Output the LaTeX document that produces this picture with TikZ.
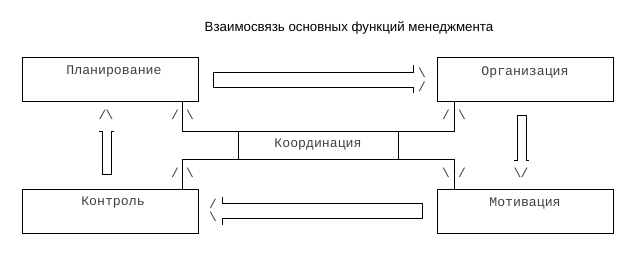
\documentclass[tikz,border=0pt]{standalone}
\usepackage{fontspec}
\setmainfont{Liberation Sans}
\setmonofont{Liberation Mono}
\definecolor{txtgray}{HTML}{404040}
\begin{document}
\begin{tikzpicture}[x=1pt,y=-1pt,
  box/.style={draw=black,line width=0.8pt,minimum width=176pt,minimum height=44pt,inner sep=0pt,anchor=north west},
  lbl/.style={font=\ttfamily\fontsize{13.2}{15}\selectfont,text=txtgray,inner sep=0pt},
  sl/.style={font=\ttfamily\fontsize{13}{15}\selectfont,text=txtgray,inner sep=0pt},
  ln/.style={draw=black,line width=0.8pt}]
\useasboundingbox (0,0) rectangle (624,260);
\node[font=\fontsize{13.3}{15}\selectfont,inner sep=0pt] (title) at (349,28) {Взаимосвязь основных функций менеджмента};
% boxes
\node[box] (plan) at (22,57) {};
\node[box] (org) at (437,57) {};
\node[box] (ctrl) at (22,189) {};
\node[box] (mot) at (437,189) {};
\node[lbl] (planT) at (114,72) {Планирование};
\node[lbl] (orgT) at (525,72) {Организация};
\node[lbl] (ctrlT) at (113,203) {Контроль};
\node[lbl] (motT) at (525,203) {Мотивация};
% coordination
\node[draw=black,line width=0.8pt,minimum width=160pt,minimum height=28pt,inner sep=0pt,anchor=north west] (coord) at (238,131) {};
\node[lbl] (coordT) at (318,145) {Координация};
\coordinate (c1) at (182,101);
\coordinate (c2) at (182,131);
\coordinate (c3) at (454,131);
\coordinate (c4) at (454,101);
\coordinate (c5) at (182,189);
\coordinate (c6) at (182,159);
\coordinate (c7) at (454,159);
\coordinate (c8) at (454,189);
\draw[ln] (c1) -- (c2) -- (c3) -- (c4);
\draw[ln] (c5) -- (c6) -- (c7) -- (c8);
% slashes near coordination
\node[sl] (s1) at (175,115) {/};
\node[sl] (s2) at (190,115) {\textbackslash};
\node[sl] (s3) at (446,115) {/};
\node[sl] (s4) at (462,115) {\textbackslash};
\node[sl] (s5) at (175,173) {/};
\node[sl] (s6) at (190,173) {\textbackslash};
\node[sl] (s7) at (446,173) {\textbackslash};
\node[sl] (s8) at (462,173) {/};
% right arrow plan -> org
\coordinate (r1) at (413,65);
\coordinate (r2) at (413,72);
\coordinate (r3) at (213,72);
\coordinate (r4) at (213,87);
\coordinate (r5) at (413,87);
\coordinate (r6) at (413,93);
\draw[ln] (r1) -- (r2) -- (r3) -- (r4) -- (r5) -- (r6);
\node[sl] (ra) at (422,73) {\textbackslash};
\node[sl] (rb) at (422,87) {/};
% left arrow mot -> ctrl
\coordinate (l1) at (222,197);
\coordinate (l2) at (222,203);
\coordinate (l3) at (422,203);
\coordinate (l4) at (422,218);
\coordinate (l5) at (222,218);
\coordinate (l6) at (222,225);
\draw[ln] (l1) -- (l2) -- (l3) -- (l4) -- (l5) -- (l6);
\node[sl] (la) at (213,204) {/};
\node[sl] (lb) at (213,217) {\textbackslash};
% up arrow ctrl -> plan
\coordinate (u1) at (99,131);
\coordinate (u2) at (102,131);
\coordinate (u3) at (102,174);
\coordinate (u4) at (111,174);
\coordinate (u5) at (111,131);
\coordinate (u6) at (114,131);
\draw[ln] (u1) -- (u2) -- (u3) -- (u4) -- (u5) -- (u6);
\node[sl] (ua) at (106,115) {/\kern-1pt\textbackslash};
% down arrow org -> mot
\coordinate (d1) at (514,160);
\coordinate (d2) at (517,160);
\coordinate (d3) at (517,115);
\coordinate (d4) at (526,115);
\coordinate (d5) at (526,160);
\coordinate (d6) at (529,160);
\draw[ln] (d1) -- (d2) -- (d3) -- (d4) -- (d5) -- (d6);
\node[sl] (da) at (521,173) {\textbackslash\kern-1pt/};
\end{tikzpicture}
\end{document}
